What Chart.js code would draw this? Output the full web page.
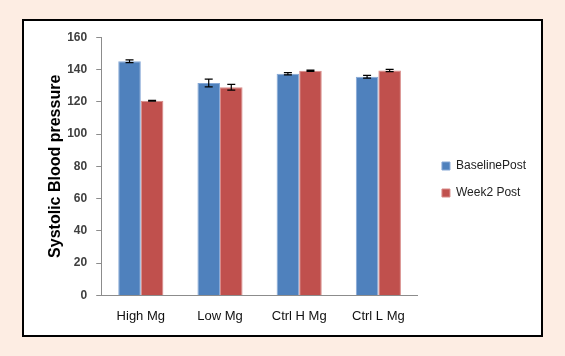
<!DOCTYPE html>
<html>
<head>
<meta charset="utf-8">
<script src="https://cdn.jsdelivr.net/npm/chart.js@4.4.0/dist/chart.umd.min.js"></script>
<style>
html,body{margin:0;padding:0;}
body{width:565px;height:356px;background:#fdede3;position:relative;overflow:hidden;}
#box{position:absolute;left:22px;top:19px;width:517px;height:314px;border:2px solid #000;background:#fff;}
#c{position:absolute;left:0;top:0;}
</style>
</head>
<body>
<div id="box"><canvas id="c" width="517" height="314"></canvas></div>
<script>
const categories = ['High Mg', 'Low Mg', 'Ctrl H Mg', 'Ctrl L Mg'];
const baselineValues = [145.1, 131.6, 137.4, 135.5];
const baselineErrors = [0.9, 2.4, 0.7, 0.9];
const week2Values = [120.6, 129.0, 139.2, 139.4];
const week2Errors = [0.3, 1.8, 0.4, 0.7];
const yTicks = [0, 20, 40, 60, 80, 100, 120, 140, 160];

const errorBarPlugin = {
  id: 'errorBars',
  afterDatasetsDraw(chart) {
    const ctx = chart.ctx;
    const yScale = chart.scales.y;
    chart.data.datasets.forEach((ds, di) => {
      const meta = chart.getDatasetMeta(di);
      if (meta.hidden) return;
      meta.data.forEach((bar, i) => {
        const v = ds.data[i], e = ds.errors[i];
        const yTop = yScale.getPixelForValue(v + e);
        const yBot = yScale.getPixelForValue(v - e);
        const x = bar.x;
        ctx.save();
        ctx.strokeStyle = '#000';
        ctx.lineWidth = 1.2;
        ctx.beginPath();
        ctx.moveTo(x, yTop); ctx.lineTo(x, yBot);
        ctx.moveTo(x - 4, yTop); ctx.lineTo(x + 4, yTop);
        ctx.moveTo(x - 4, yBot); ctx.lineTo(x + 4, yBot);
        ctx.stroke();
        ctx.restore();
      });
    });
  }
};

// nudge the legend block to sit where the reference places it
const legendNudge = {
  id: 'legendNudge',
  afterLayout(chart) {
    const l = chart.legend;
    if (!l) return;
    const dx = 9, dy = -7;
    l.left += dx; l.right += dx;
    l.top += dy; l.bottom += dy;
  }
};

const FONT = 'Liberation Sans, Arial, sans-serif';

new Chart(document.getElementById('c'), {
  type: 'bar',
  data: {
    labels: categories,
    datasets: [
      { label: 'BaselinePost', data: baselineValues, errors: baselineErrors,
        backgroundColor: '#4f81bd', borderColor: '#86a8d6', borderWidth: 1,
        categoryPercentage: 0.57, barPercentage: 1.0 },
      { label: 'Week2 Post', data: week2Values, errors: week2Errors,
        backgroundColor: '#c0504d', borderColor: '#d88a88', borderWidth: 1,
        categoryPercentage: 0.57, barPercentage: 1.0 }
    ]
  },
  options: {
    responsive: false,
    animation: false,
    devicePixelRatio: 1,
    layout: { padding: { left: 22, right: 14, top: 15, bottom: -2 } },
    plugins: {
      tooltip: { enabled: false },
      legend: {
        position: 'right',
        labels: {
          boxWidth: 8, boxHeight: 8, padding: 15,
          color: '#222',
          font: { family: FONT, size: 12 }
        }
      }
    },
    scales: {
      x: {
        grid: { display: false, drawTicks: false },
        border: { display: true, color: '#8c8c8c', width: 1 },
        ticks: { color: '#111', padding: 13,
          font: { family: FONT, size: 13 } }
      },
      y: {
        min: 0, max: 160,
        afterBuildTicks(scale) { scale.ticks = yTicks.map(v => ({ value: v })); },
        grid: { drawOnChartArea: false, drawTicks: true, tickLength: 5, color: '#8c8c8c' },
        border: { display: true, color: '#8c8c8c', width: 1 },
        ticks: { color: '#404040', padding: 9,
          font: { family: FONT, size: 12, weight: 'bold' } },
        title: { display: true, text: 'Systolic Blood pressure', color: '#000',
          padding: { top: 0, bottom: -7 },
          font: { family: FONT, size: 16, weight: 'bold' } }
      }
    }
  },
  plugins: [errorBarPlugin, legendNudge]
});
</script>
</body>
</html>
